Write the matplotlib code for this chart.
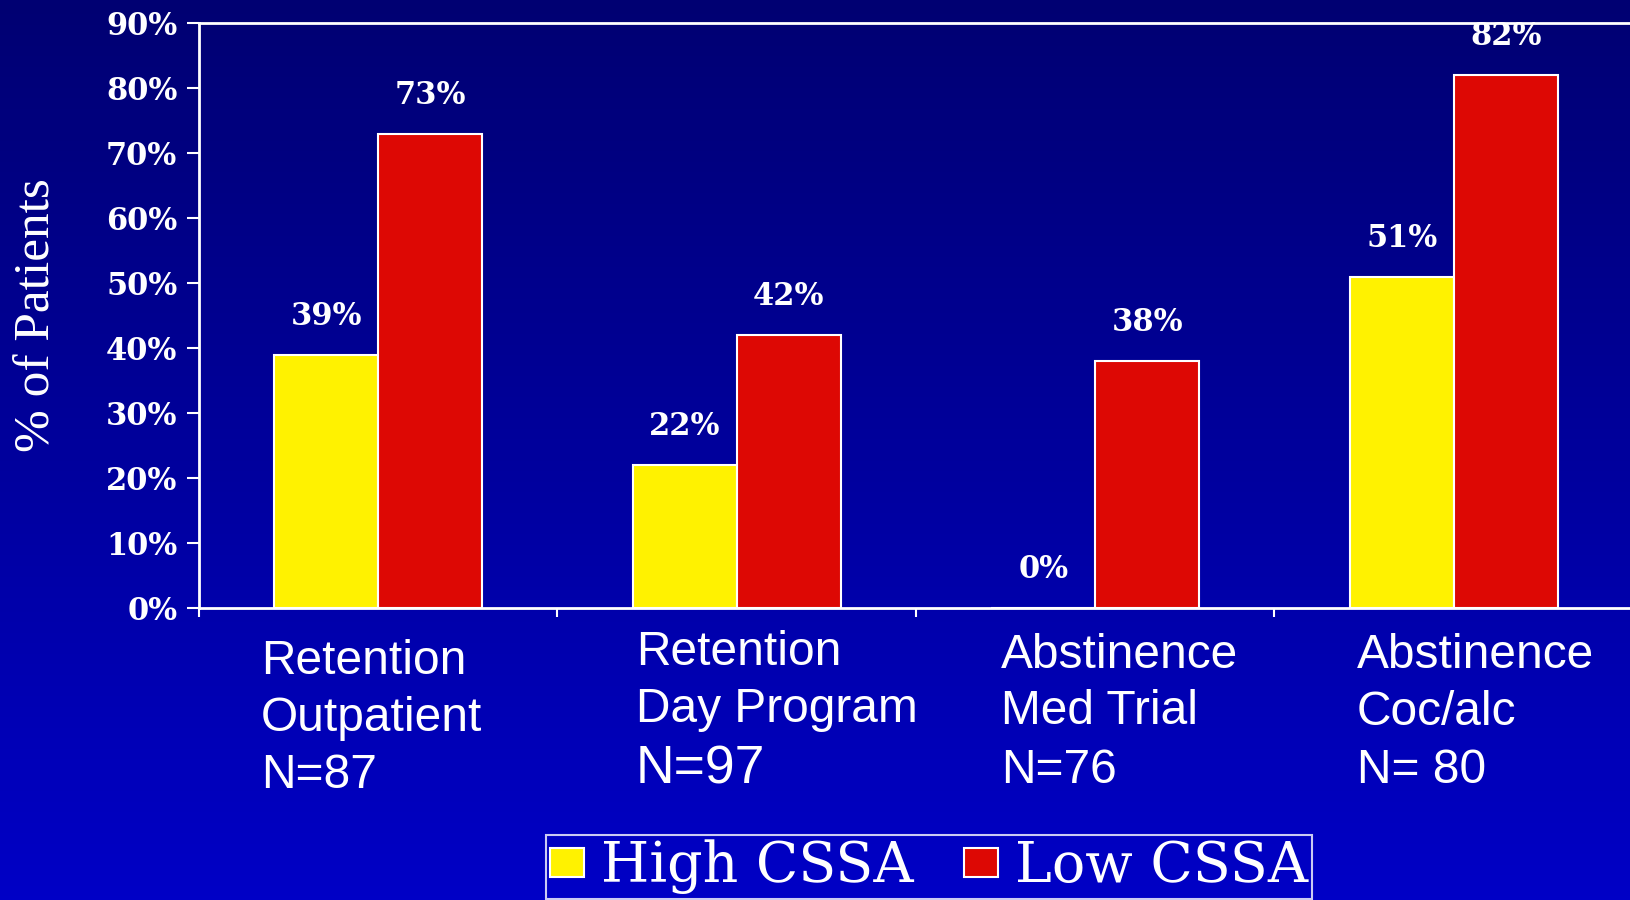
import numpy as np
import matplotlib
matplotlib.use("Agg")
import matplotlib.pyplot as plt
from matplotlib.patches import Rectangle
import matplotlib.transforms as mtransforms

# data
groups = ["Retention Outpatient", "Retention Day Program",
          "Abstinence Med Trial", "Abstinence Coc/alc"]
cat_lines = [["Retention", "Outpatient", "N=87"],
             ["Retention", "Day Program", "N=97"],
             ["Abstinence", "Med Trial", "N=76"],
             ["Abstinence", "Coc/alc", "N= 80"]]
high_cssa = [39, 22, 0, 51]
low_cssa = [73, 42, 38, 82]
series_names = ["High CSSA", "Low CSSA"]
yticks = list(range(0, 91, 10))

YELLOW = "#FFF200"
RED = "#DD0804"
WHITE = "white"
W, H = 1631, 900

fig = plt.figure(figsize=(W / 100, H / 100), dpi=100)

# background gradient, dark navy at top -> brighter blue at bottom
bg = fig.add_axes([0, 0, 1, 1], zorder=-10)
grad = np.linspace(0, 1, 256)[:, None]
top = np.array([0, 0, 0x72]) / 255
bot = np.array([0, 0, 0xC6]) / 255
img = top[None, None, :] * (1 - grad[..., None]) + bot[None, None, :] * grad[..., None]
img = np.repeat(img, 2, axis=1)
bg.imshow(img, aspect="auto", extent=[0, 1, 0, 1], origin="upper")
bg.axis("off")

ax = fig.add_axes([199 / W, (H - 608) / H, (1633 - 199) / W, (608 - 23) / H])
ax.set_facecolor("none")

x = np.arange(len(groups))
bw = 0.29
ax.bar(x - bw / 2, high_cssa, bw, color=YELLOW, edgecolor=WHITE, linewidth=1.5, zorder=3)
ax.bar(x + bw / 2, low_cssa, bw, color=RED, edgecolor=WHITE, linewidth=1.5, zorder=3)

ax.set_xlim(-0.5, 3.5)
ax.set_ylim(0, 90)

for xs, vals in ((x - bw / 2, high_cssa), (x + bw / 2, low_cssa)):
    for xi, v in zip(xs, vals):
        ax.text(xi, v + 4.6, f"{v}%", ha="center", va="baseline", color=WHITE,
                fontsize=22, fontweight="bold", family="DejaVu Serif")

for s in ("left", "bottom", "top"):
    ax.spines[s].set_color(WHITE)
    ax.spines[s].set_linewidth(2)
ax.spines["right"].set_visible(False)

ax.set_yticks(yticks)
ax.set_yticklabels([f"{t}%" for t in yticks], fontsize=22, fontweight="bold",
                   family="DejaVu Serif", color=WHITE)
ax.tick_params(axis="y", direction="out", length=8.6, width=1.5, color=WHITE, pad=7)
ax.set_xticks(x - 0.5)
ax.set_xticklabels([])
ax.tick_params(axis="x", direction="out", length=6.5, width=1.5, color=WHITE)

ax.set_ylabel("% of Patients", fontsize=37, family="Liberation Serif", color=WHITE, va="center")
ax.yaxis.set_label_coords((37 - 199) / (1633 - 199), 0.5)

# category labels below the axis, three lines each
trans = mtransforms.blended_transform_factory(ax.transData, fig.transFigure)
label_dx = [0.173, 0.218, 0.237, 0.229]
base_y = [[674, 731, 788], [665, 722, 784], [668, 724, 783], [668, 725, 783]]
for i, lines in enumerate(cat_lines):
    for j, line in enumerate(lines):
        fs = 38.5 if (i == 1 and j == 2) else 34.5
        ax.text(i - 0.5 + label_dx[i], 1 - base_y[i][j] / H, line, transform=trans,
                ha="left", va="baseline", color=WHITE, fontsize=fs,
                family="Liberation Sans", clip_on=False)

handles = [Rectangle((0, 0), 1, 1, facecolor=YELLOW, edgecolor=WHITE, linewidth=1.5),
           Rectangle((0, 0), 1, 1, facecolor=RED, edgecolor=WHITE, linewidth=1.5)]
leg = fig.legend(handles, series_names, loc="center", bbox_to_anchor=(929 / W, 1 - 867 / H),
                 ncol=2, frameon=True, fancybox=False, edgecolor=WHITE, facecolor="none",
                 prop={"family": "DejaVu Serif", "size": 40},
                 handlelength=0.62, handleheight=0.45, handletextpad=0.3,
                 columnspacing=0.9, borderpad=0.08, borderaxespad=0)
leg.get_frame().set_linewidth(1.5)
for t in leg.get_texts():
    t.set_color(WHITE)

fig.savefig("out.png", dpi=100)
